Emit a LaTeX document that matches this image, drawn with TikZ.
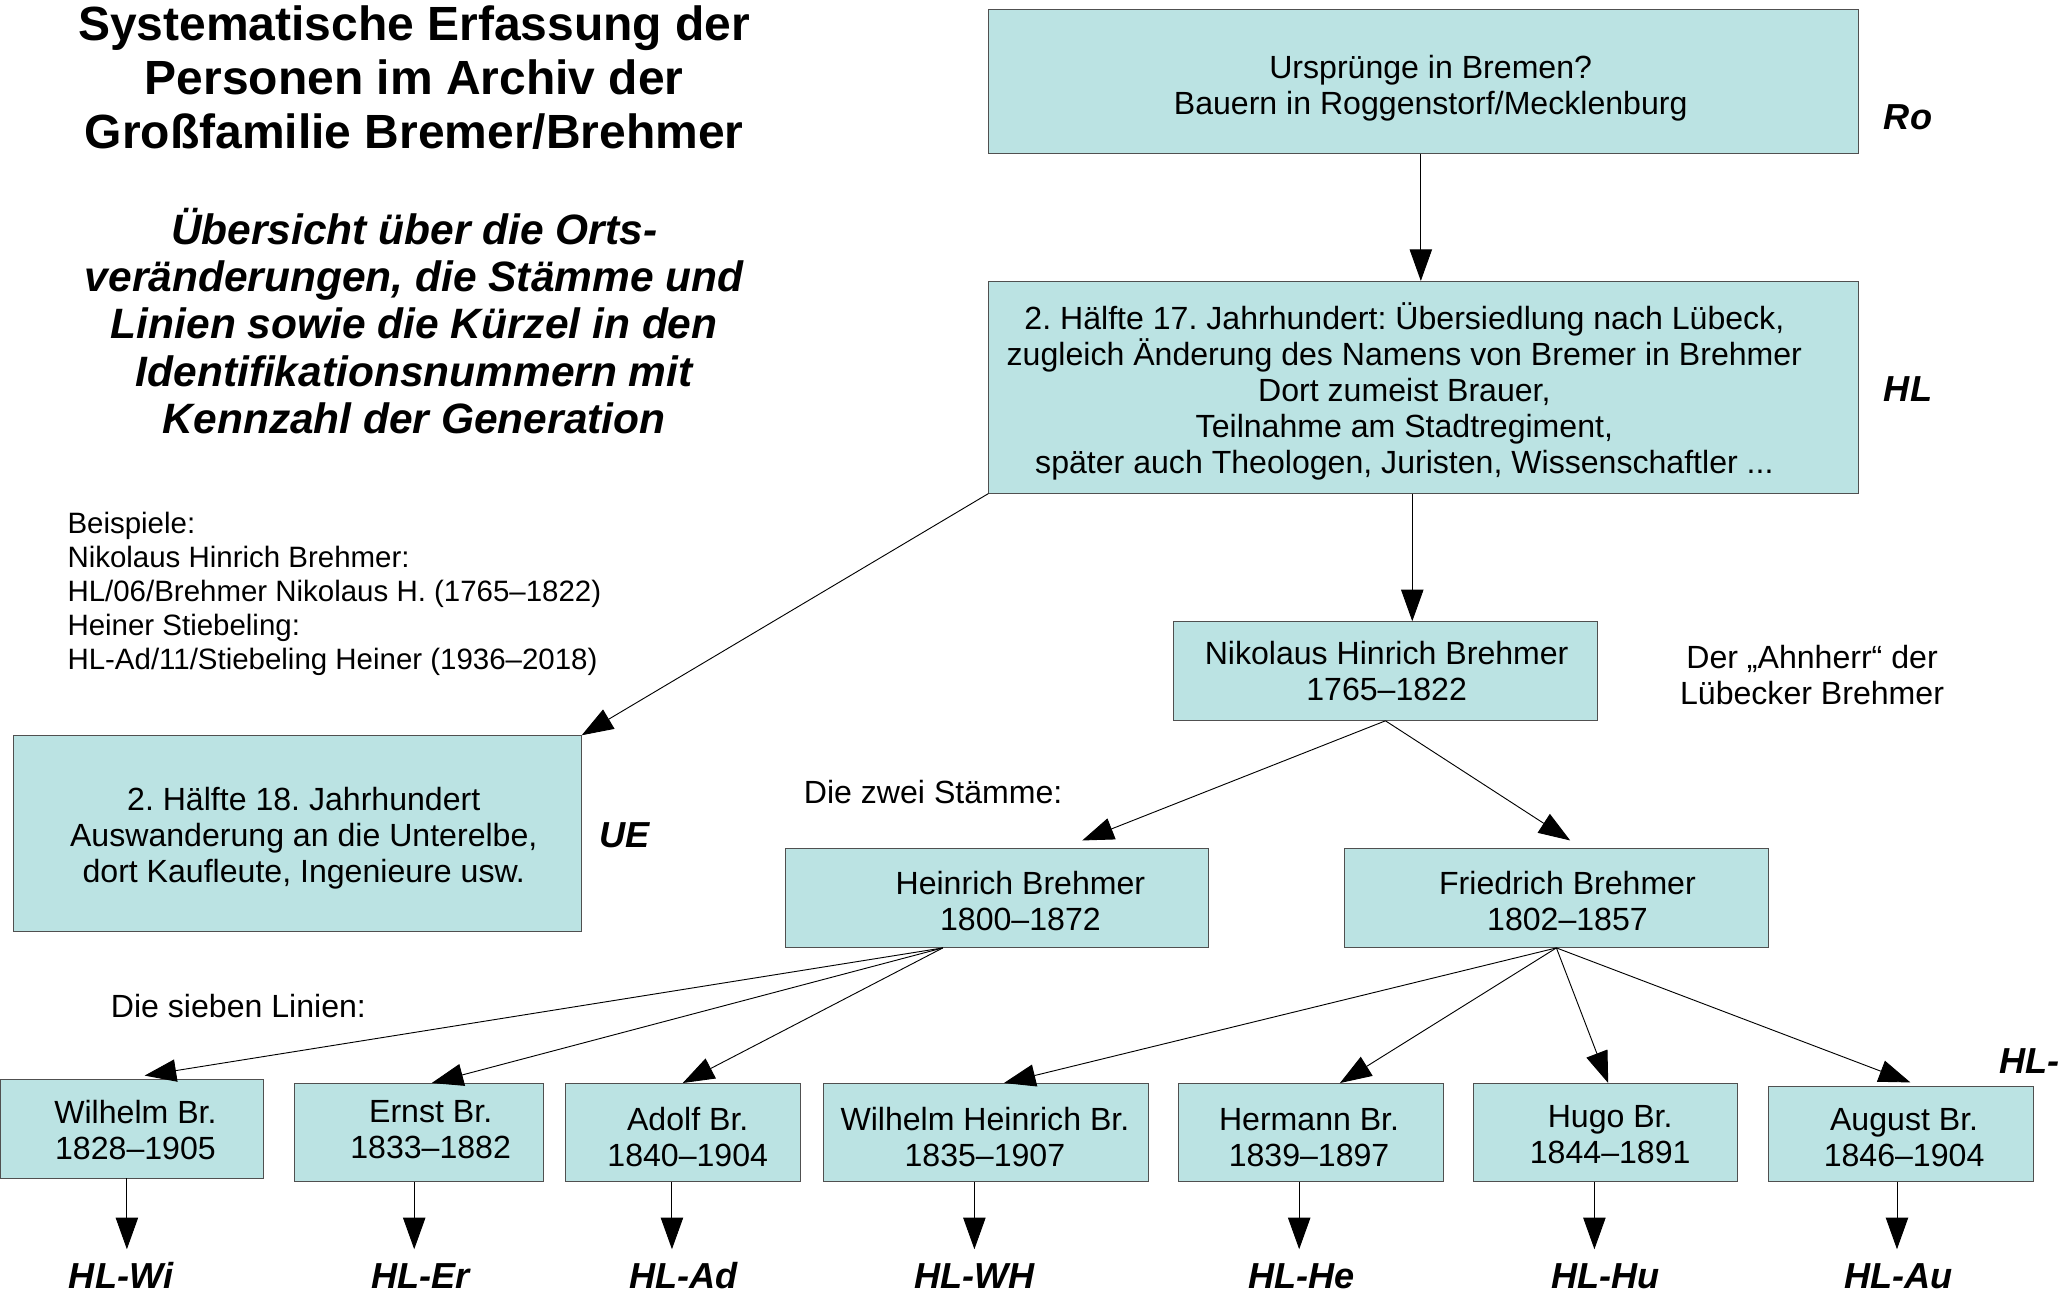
\documentclass[tikz,border=0pt]{standalone}
\usepackage{fontspec}
\setmainfont{Liberation Sans}
\usepackage{tikz}
\usetikzlibrary{positioning, arrows.meta}
\definecolor{boxfill}{RGB}{187,227,227}
\definecolor{boxline}{RGB}{80,80,80}
\frenchspacing

\begin{document}
\begin{tikzpicture}[x=1pt, y=-1pt, line width=0.7pt,
    >={Triangle[length=24pt,width=17pt]},
    box/.style={draw=boxline, fill=boxfill, inner sep=0pt},
    boxtext/.style={align=center, inner sep=0pt, font=\fontsize{24.4}{27.4}\selectfont},
    kuerzel/.style={font=\fontsize{27.5}{30}\selectfont\bfseries\itshape, inner sep=2pt},
    txt/.style={font=\fontsize{24.4}{27.4}\selectfont, inner sep=0pt}]
    \useasboundingbox (0,0) rectangle (1568.1,980.2);

    \node[font=\fontsize{36.5}{41}\selectfont\bfseries, align=center] (titel) at (315,59)
      {Systematische Erfassung der\\Personen im Archiv der\\Großfamilie Bremer/Brehmer};
    \node[font=\fontsize{32.3}{36}\selectfont\bfseries\itshape, align=center] (untertitel) at (315,244)
      {Übersicht über die Orts-\\veränderungen, die Stämme und\\Linien sowie die Kürzel in den\\Identifikationsnummern mit\\Kennzahl der Generation};
    \node[txt, font=\fontsize{22.4}{25.75}\selectfont, align=left, anchor=west] (bsp) at (51,451.5)
      {Beispiele:\\Nikolaus Hinrich Brehmer:\\HL/06/Brehmer Nikolaus H. (1765–1822)\\Heiner Stiebeling:\\HL-Ad/11/Stiebeling Heiner (1936–2018)};

    \node[box, minimum width=661pt, minimum height=109pt] (ro) at (1082.5,62) {};
    \node[box, minimum width=661pt, minimum height=161pt] (hl) at (1082.5,294.5) {};
    \node[box, minimum width=432pt, minimum height=149pt] (ue) at (226,634) {};
    \node[box, minimum width=322pt, minimum height=75pt] (nhb) at (1053.6,510.3) {};
    \node[box, minimum width=322pt, minimum height=75pt] (hb) at (758,683) {};
    \node[box, minimum width=322pt, minimum height=75pt] (fb) at (1183.6,683) {};
    \node[box, minimum width=200pt, minimum height=75pt] (wi) at (100,858.3) {};
    \node[box, minimum width=189.5pt, minimum height=74.5pt] (er) at (318.3,861.2) {};
    \node[box, minimum width=178.5pt, minimum height=74.5pt] (ad) at (519.2,861.2) {};
    \node[box, minimum width=247pt, minimum height=74.5pt] (wh) at (749.5,861.2) {};
    \node[box, minimum width=201pt, minimum height=74.5pt] (he) at (997,861.2) {};
    \node[box, minimum width=201pt, minimum height=74.5pt] (hu) at (1221,861.2) {};
    \node[box, minimum width=201.4pt, minimum height=72pt] (au) at (1445.3,862.5) {};

    \node[boxtext] (rotxt) at (1088,67) {Ursprünge in Bremen?\\Bauern in Roggenstorf/Mecklenburg};
    \node[boxtext] (hltxt) at (1068,297.5)
      {2. Hälfte 17. Jahrhundert: Übersiedlung nach Lübeck,\\zugleich Änderung des Namens von Bremer in Brehmer\\Dort zumeist Brauer,\\Teilnahme am Stadtregiment,\\später auch Theologen, Juristen, Wissenschaftler ...};
    \node[boxtext] (uetxt) at (231,637.5) {2. Hälfte 18. Jahrhundert\\Auswanderung an die Unterelbe,\\dort Kaufleute, Ingenieure usw.};
    \node[boxtext] (nhbtxt) at (1054.5,510) {Nikolaus Hinrich Brehmer\\1765–1822};
    \node[boxtext] (hbtxt) at (776,685) {Heinrich Brehmer\\1800–1872};
    \node[boxtext] (fbtxt) at (1192,685) {Friedrich Brehmer\\1802–1857};
    \node[boxtext] (witxt) at (103,859) {Wilhelm Br.\\1828–1905};
    \node[boxtext] (ertxt) at (327.5,859) {Ernst Br.\\1833–1882};
    \node[boxtext] (adtxt) at (523,865) {Adolf Br.\\1840–1904};
    \node[boxtext] (whtxt) at (749,865) {Wilhelm Heinrich Br.\\1835–1907};
    \node[boxtext] (hetxt) at (995.5,865) {Hermann Br.\\1839–1897};
    \node[boxtext] (hutxt) at (1224.5,863) {Hugo Br.\\1844–1891};
    \node[boxtext] (autxt) at (1448,865) {August Br.\\1846–1904};

    \node[txt, align=center] (ahnherr) at (1378,513.5) {Der „Ahnherr“ der\\Lübecker Brehmer};
    \node[txt, anchor=west] (zwei) at (611,602) {Die zwei Stämme:};
    \node[txt, anchor=west] (sieben) at (84,765) {Die sieben Linien:};

    \node[kuerzel] (lro) at (1451,89) {Ro};
    \node[kuerzel] (lhl) at (1451,296) {HL};
    \node[kuerzel] (lue) at (475,635) {UE};
    \node[kuerzel, anchor=base west] (lrest) at (1518,816.5) {HL-};
    \node[kuerzel, anchor=base] (lwi) at (92,979.5) {HL-Wi};
    \node[kuerzel, anchor=base] (ler) at (320,979.5) {HL-Er};
    \node[kuerzel, anchor=base] (lad) at (520,979.5) {HL-Ad};
    \node[kuerzel, anchor=base] (lwh) at (741,979.5) {HL-WH};
    \node[kuerzel, anchor=base] (lhe) at (990,979.5) {HL-He};
    \node[kuerzel, anchor=base] (lhu) at (1221,979.5) {HL-Hu};
    \node[kuerzel, anchor=base] (lau) at (1444,979.5) {HL-Au};

    \coordinate (twi) at (96.5,950);
    \coordinate (ter) at (315,950);
    \coordinate (tad) at (511,950);
    \coordinate (twh) at (741,950);
    \coordinate (the) at (988,950);
    \coordinate (thu) at (1212.5,950);
    \coordinate (tau) at (1442.6,950);

    \path[->]
      ([xshift=-2pt]ro.south) edge ([xshift=-2pt]hl.north)
      ([xshift=-8.5pt]hl.south) edge ([xshift=20.4pt]nhb.north)
      (hl.south west) edge (ue.north east)
      (nhb.south) edge ([xshift=65pt,yshift=6pt]hb.north)
      (nhb.south) edge ([xshift=10.5pt,yshift=6pt]fb.north)
      ([xshift=-41pt]hb.south) edge ([xshift=10pt,yshift=2.5pt]wi.north)
      ([xshift=-41pt]hb.south) edge ([xshift=10pt]er.north)
      ([xshift=-41pt]hb.south) edge (ad.north)
      (fb.south) edge ([xshift=14pt]wh.north)
      (fb.south) edge ([xshift=22pt]he.north)
      (fb.south) edge ([xshift=2pt]hu.north)
      (fb.south) edge ([xshift=7.5pt,yshift=3pt]au.north)
      (wi.south -| twi) edge (twi)
      (er.south -| ter) edge (ter)
      (ad.south -| tad) edge (tad)
      (wh.south -| twh) edge (twh)
      (he.south -| the) edge (the)
      (hu.south -| thu) edge (thu)
      (au.south -| tau) edge (tau);
\end{tikzpicture}
\end{document}
